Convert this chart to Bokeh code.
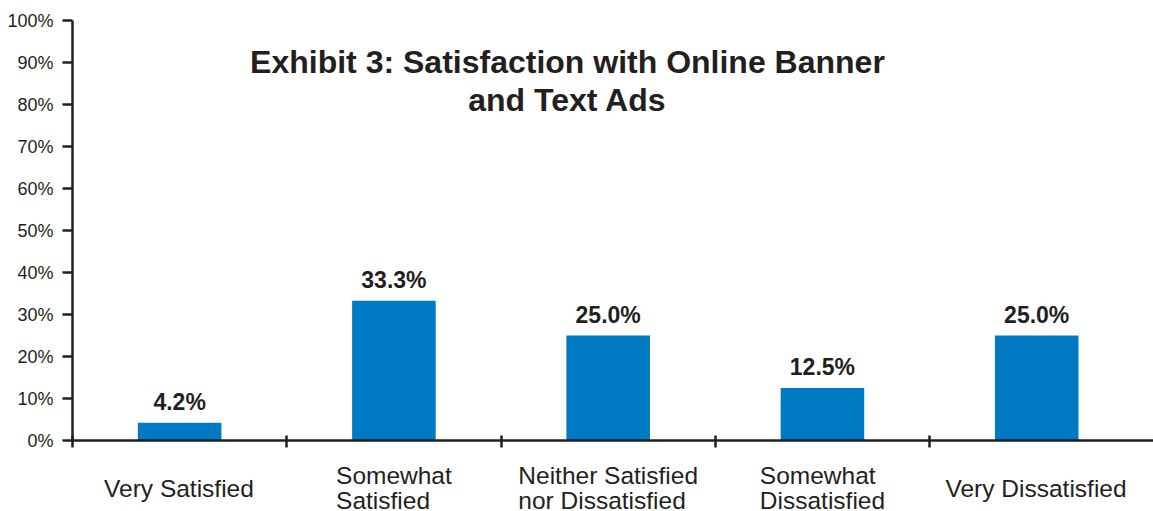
from bokeh.plotting import figure
from bokeh.layouts import column
from bokeh.models import ColumnDataSource, LabelSet, FixedTicker, Range1d, Label
from bokeh.core.properties import value
from bokeh.embed import file_html
from bokeh.resources import INLINE

categories = ["Very Satisfied", "Somewhat\nSatisfied", "Neither Satisfied\nnor Dissatisfied",
              "Somewhat\nDissatisfied", "Very Dissatisfied"]
values = [4.2, 33.3, 25.0, 12.5, 25.0]
value_labels = ["4.2%", "33.3%", "25.0%", "12.5%", "25.0%"]
y_ticks = [0, 10, 20, 30, 40, 50, 60, 70, 80, 90, 100]
y_tick_labels = ["0%", "10%", "20%", "30%", "40%", "50%", "60%", "70%", "80%", "90%", "100%"]
title_text = "Exhibit 3: Satisfaction with Online Banner\nand Text Ads"

INK = "#231f20"
BAR = "#007ac2"
FONT = "Liberation Sans"
CAT_SIZE = 24.5
LINE_GAP = 25.0

# Liberation Sans (Arial-metric) advance widths, per 1000 em, for the label glyphs
ADV = {"S": 667, "o": 556, "m": 833, "e": 556, "w": 722, "h": 556, "a": 556, "t": 278,
       "i": 222, "s": 500, "f": 278, "d": 556, "N": 722, "r": 333, "n": 556, "D": 722,
       "V": 667, "y": 500, " ": 278}


def text_width(s):
    return sum(ADV.get(c, 556) for c in s) * CAT_SIZE / 1000.0


xs = [i + 0.5 for i in range(len(categories))]
src = ColumnDataSource(dict(x=xs, top=values, label=value_labels))

# category labels: block centred under the category, lines left-aligned within it
lx, ly, lt, lo = [], [], [], []
for x, cat in zip(xs, categories):
    lines = cat.split("\n")
    block_w = max(text_width(l) for l in lines)
    n = len(lines)
    for k, line in enumerate(lines):
        lx.append(x)
        ly.append(23.5 + ((n - 1) / 2.0 - k) * LINE_GAP)
        lt.append(line)
        lo.append(-block_w / 2.0)
cat_src = ColumnDataSource(dict(x=lx, y=ly, text=lt, off=lo))

xr = Range1d(0, 5.045)

p = figure(width=1153, height=452, x_range=xr, y_range=Range1d(0, 100),
           output_backend="svg", toolbar_location=None,
           min_border_left=72, min_border_right=0, min_border_top=20, min_border_bottom=12)
p.outline_line_color = None
p.xgrid.visible = False
p.ygrid.visible = False

p.vbar(x="x", top="top", bottom=0, width=0.39, source=src, fill_color=BAR, line_color=None)

p.add_layout(LabelSet(x="x", y="top", text="label", source=src, y_offset=8,
                      text_align="center", text_baseline="bottom",
                      text_font=value(FONT), text_font_style="bold", text_font_size="23px",
                      text_color=INK))

p.add_layout(Label(x=2.31, y=85.6, text=title_text, text_align="center",
                   text_baseline="middle", text_line_height=1.06,
                   text_font=FONT, text_font_style="bold", text_font_size="32px",
                   text_color=INK))

ya = p.yaxis[0]
ya.ticker = FixedTicker(ticks=y_ticks, minor_ticks=[])
ya.major_label_overrides = {t: l for t, l in zip(y_ticks, y_tick_labels)}
ya.major_tick_in = 0
ya.major_tick_out = 10
ya.major_tick_line_width = 2.5
ya.major_tick_line_color = INK
ya.axis_line_width = 2.5
ya.axis_line_color = INK
ya.major_label_text_font = FONT
ya.major_label_text_font_size = "18px"
ya.major_label_text_color = INK
ya.major_label_standoff = 9

xa = p.xaxis[0]
xa.ticker = FixedTicker(ticks=[], minor_ticks=[0, 1, 2, 3, 4])
xa.major_tick_line_color = None
xa.major_label_text_font_size = "0px"
xa.major_label_standoff = 0
xa.minor_tick_in = 5
xa.minor_tick_out = 7
xa.minor_tick_line_width = 2.5
xa.minor_tick_line_color = INK
xa.axis_line_width = 2.5
xa.axis_line_color = INK

q = figure(width=1153, height=59, x_range=xr, y_range=Range1d(0, 59),
           output_backend="svg", toolbar_location=None,
           x_axis_location=None, y_axis_location=None,
           min_border_left=72, min_border_right=0, min_border_top=0, min_border_bottom=0)
q.outline_line_color = None
q.xgrid.visible = False
q.ygrid.visible = False
q.text(x="x", y="y", text="text", x_offset="off", source=cat_src, text_align="left",
       text_baseline="middle",
       text_font=value(FONT), text_font_size=f"{CAT_SIZE}px", text_color=INK)

layout = column(p, q, spacing=0)
open("out.html", "w").write(file_html(layout, INLINE))
